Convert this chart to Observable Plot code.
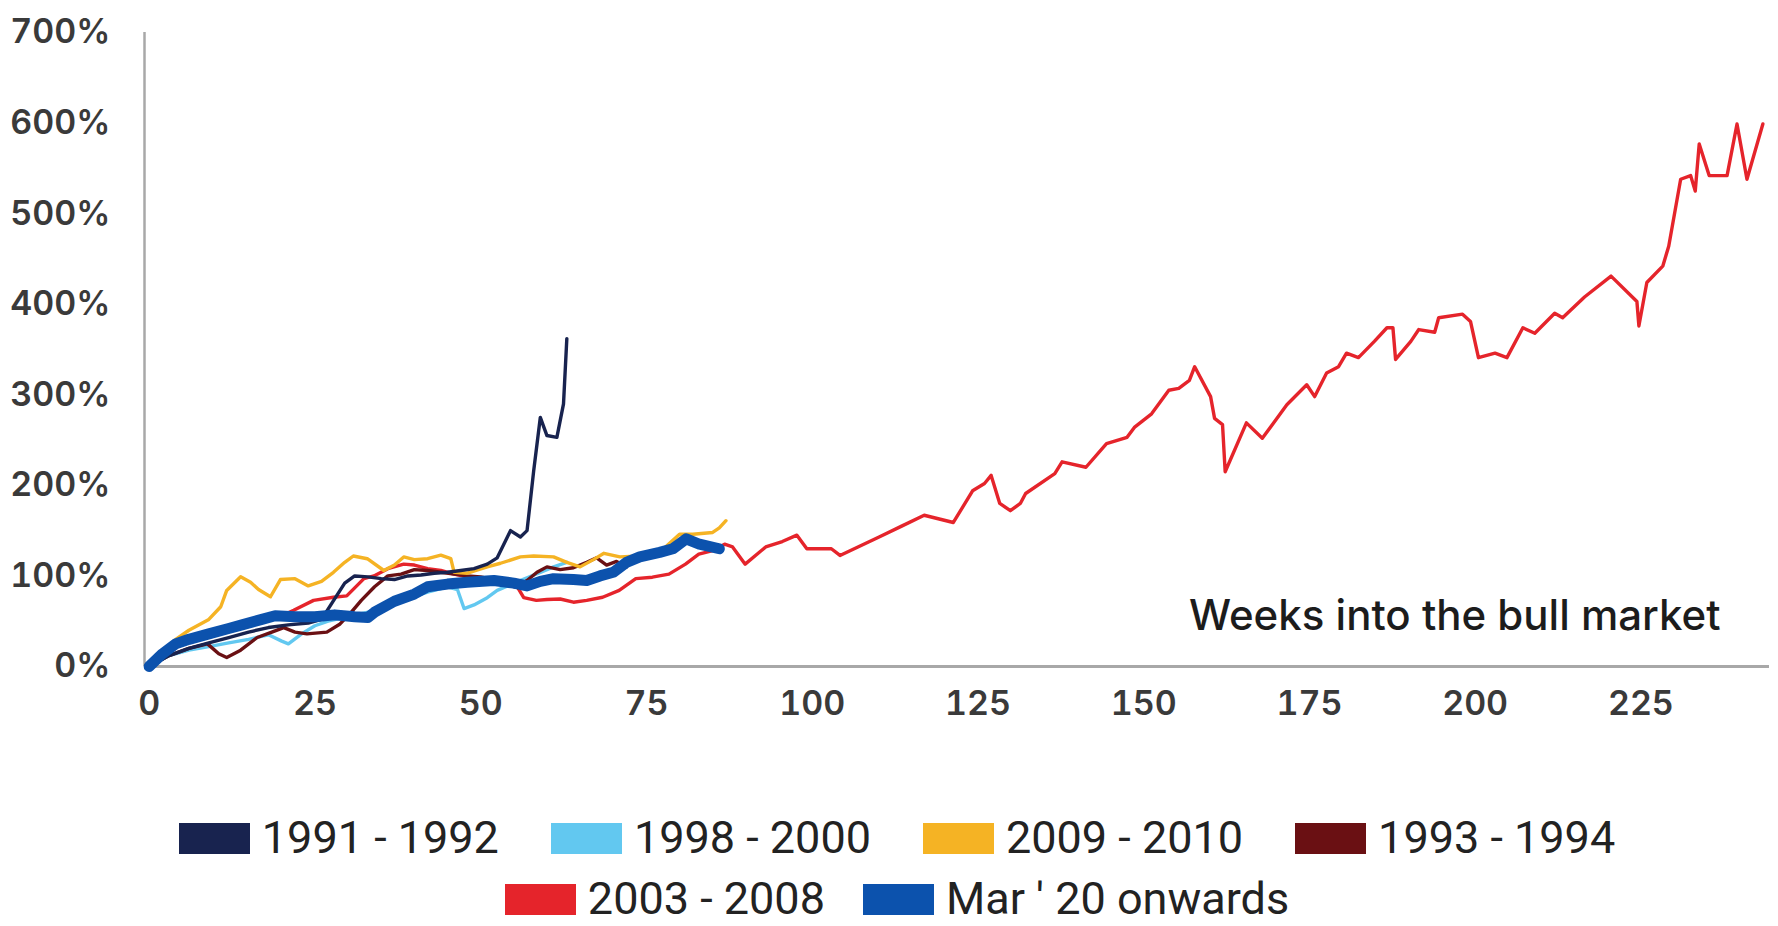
<!DOCTYPE html>
<html>
<head>
<meta charset="utf-8">
<script src="https://cdn.jsdelivr.net/npm/d3@7"></script>
<script src="https://cdn.jsdelivr.net/npm/@observablehq/plot@0.6"></script>
<style>
  html, body { margin: 0; padding: 0; background: #ffffff; }
  #chart { width: 1778px; height: 740px; }
  #chart svg g[aria-label="x-axis tick label"] text,
  #chart svg g[aria-label="y-axis tick label"] text { font-weight: 600; }
  #legend {
    width: 1778px;
    margin-top: 78px;
    font-family: Roboto, "Liberation Sans", sans-serif;
    font-size: 45px;
    line-height: 40px;
    color: #222;
    box-sizing: border-box;
    padding-left: 16px;
  }
  .legend-row {
    display: flex;
    justify-content: center;
    align-items: center;
    height: 40px;
    margin-bottom: 21px;
  }
  .legend-item { display: flex; align-items: center; white-space: nowrap; }
  .legend-swatch { width: 71px; height: 31px; margin-right: 12px; }
</style>
</head>
<body>
<div id="chart"></div>
<div id="legend"></div>
<script>
// Cumulative gain (%) by week since the start of each bull market.

const seriesNames = ["1991 - 1992", "1998 - 2000", "2009 - 2010", "1993 - 1994", "2003 - 2008", "Mar ' 20 onwards"];
const seriesColors = ["#18234f", "#62c8f0", "#f5b324", "#6a1013", "#e5242b", "#0c52ad"];

const xTicks = [0, 25, 50, 75, 100, 125, 150, 175, 200, 225];
const yTicks = [0, 100, 200, 300, 400, 500, 600, 700];
const weekDomain = [-0.7, 244.4];

const weeks1991 = [0, 3, 6, 9, 12, 15, 18, 21, 24, 26, 28, 29.5, 31, 33, 35, 37, 39, 41, 43, 45, 47, 49, 51, 52.5, 54.5, 56, 57, 58, 59, 60, 61.5, 62.5, 63];
const gain1991 = [0, 12, 20, 26, 32, 38, 43, 46, 48, 52, 75, 92, 100, 99, 97, 96, 100, 101, 103, 104, 106, 108, 113, 120, 150, 143, 150, 216, 275, 255, 253, 290, 362];

const weeks1998 = [0, 3, 6, 9, 12, 15, 18, 20, 21, 23, 25, 27, 30, 33, 36, 39, 42, 45, 46.5, 47.5, 49, 51, 52.5, 55, 57, 59, 61, 63];
const gain1998 = [0, 12, 18, 22, 26, 30, 35, 28, 25, 36, 45, 50, 55, 60, 68, 75, 82, 88, 85, 64, 68, 76, 84, 92, 98, 104, 110, 115];

const weeks2009 = [0, 2, 4, 6, 9, 10.8, 11.7, 13.8, 15.3, 16.5, 18.3, 19.8, 22, 24, 26, 27.8, 29.5, 30.8, 32.9, 35.4, 37, 38.4, 40, 42, 44, 45.5, 46, 48, 51, 53, 56, 58, 61, 63, 65, 67, 68.6, 71, 74, 77, 80, 82, 85, 86, 87];
const gain2009 = [0, 15, 30, 40, 52, 66, 84, 99, 93, 85, 77, 96, 97, 89, 94, 104, 115, 122, 119, 106, 112, 121, 118, 119, 123, 119, 104, 103, 110, 114, 121, 122, 121, 115, 110, 118, 125, 121, 122, 126, 146, 146, 148, 153, 161];

const weeks1993 = [0, 3, 6, 8.8, 10.5, 11.7, 13.8, 16.3, 18.5, 20.3, 22, 23.8, 26.8, 28.8, 30.5, 32, 34, 36, 38, 40, 42, 44, 46, 48, 50, 52, 54, 55.6, 57, 58.5, 60, 62, 64, 66, 67.5, 69, 70.5, 72];
const gain1993 = [0, 12, 20, 25, 14, 10, 18, 32, 38, 43, 38, 36, 38, 47, 60, 73, 88, 100, 102, 107, 106, 104, 102, 100, 99, 96, 90, 87, 95, 104, 110, 107, 109, 115, 120, 112, 116, 110];

const weeks2003 = [0, 3, 6, 9, 12, 15, 18, 20, 21.8, 24.8, 27.8, 29.8, 32.4, 33.9, 36, 38.4, 40, 42, 44, 46, 48, 50, 52, 54, 55.6, 56.5, 58.4, 60, 62, 64, 66, 68.4, 70.9, 73.4, 75.9, 78.4, 80.9, 82.9, 85, 86.8, 88, 89.9, 93, 95.5, 97.7, 99.2, 102.9, 104.2, 110.1, 113.5, 116.9, 121.3, 124.2, 126, 127, 128.3, 129.9, 131.4, 132.2, 136.6, 137.7, 141.3, 144.4, 147.5, 148.6, 151.2, 153.8, 155.3, 156.9, 157.7, 160.1, 160.7, 161.9, 162.3, 165.5, 167.9, 171.6, 174.6, 175.8, 177.6, 179.4, 180.6, 182.4, 184.8, 186.7, 187.6, 188, 190.3, 191.5, 193.9, 194.5, 198.1, 199.3, 200.5, 203, 204.8, 207.2, 209, 212, 213.2, 216.5, 220.5, 224.4, 224.7, 225.9, 228.3, 229.2, 231, 232.5, 233.2, 233.8, 235.3, 238, 239.5, 241, 243.4];
const gain2003 = [0, 18, 27, 34, 41, 47, 52, 56, 62, 73, 76.5, 78, 97, 100, 108, 113, 112, 108, 106, 102, 99, 97, 96, 92, 87, 76, 73, 74, 74.5, 71, 73, 76.5, 84, 97, 98.6, 102, 113, 124, 128, 135, 132, 113, 132, 138, 145, 130, 130, 122.6, 143, 155, 167, 159, 194, 202, 211, 180, 172, 180, 191, 213, 226, 220, 246, 253, 264, 279, 305, 307, 316, 331, 298, 274, 267, 215, 269, 252, 289, 311, 298, 324, 331, 346, 341, 359, 374, 374, 339, 359, 372, 369, 385, 389, 381, 341, 346, 341, 374, 368, 390, 385, 408, 431, 403, 376, 424, 442, 464, 538, 542, 525, 577, 542, 542, 599, 538, 599];

const weeks2020 = [0, 2, 4, 6, 9, 12, 14, 17, 19, 22, 25, 28, 31, 33, 34, 37, 40, 42, 45, 48, 52, 55, 57, 59, 61, 64, 66, 68, 70, 72, 74, 77, 79, 81, 83, 86];
const gain2020 = [0, 14, 25, 30, 36, 42, 46, 52, 56, 55, 55, 57, 55, 54, 60, 72, 80, 88, 91, 93, 95, 92, 89, 94, 97, 96, 95, 100, 104, 115, 121, 126, 130, 141, 135, 130];

const rows = (weeks, gains) => weeks.map((w, i) => ({week: w, gain: gains[i]}));

const seriesData = {
  "1991 - 1992": rows(weeks1991, gain1991),
  "1998 - 2000": rows(weeks1998, gain1998),
  "2009 - 2010": rows(weeks2009, gain2009),
  "1993 - 1994": rows(weeks1993, gain1993),
  "2003 - 2008": rows(weeks2003, gain2003),
  "Mar ' 20 onwards": rows(weeks2020, gain2020)
};
const colorOf = Object.fromEntries(seriesNames.map((n, i) => [n, seriesColors[i]]));

// back-to-front drawing order; the current cycle sits on top
const drawOrder = ["2003 - 2008", "1998 - 2000", "1993 - 1994", "2009 - 2010", "1991 - 1992", "Mar ' 20 onwards"];

const lineMarks = drawOrder.map(name => Plot.line(seriesData[name], {
  x: "week",
  y: "gain",
  stroke: colorOf[name],
  strokeWidth: name === "Mar ' 20 onwards" ? 11 : 3.4,
  strokeLinejoin: "round",
  strokeLinecap: "round"
}));

const chart = Plot.plot({
  width: 1778,
  height: 740,
  marginLeft: 144,
  marginRight: 9,
  marginTop: 32,
  marginBottom: 74,
  style: {
    fontFamily: "Inter, 'Open Sans', sans-serif",
    fontSize: "34px",
    color: "#3a3a3a",
    background: "#ffffff",
    overflow: "visible"
  },
  x: {domain: weekDomain, ticks: xTicks, tickSize: 0, tickPadding: 24, label: null},
  y: {domain: [0, 700], ticks: yTicks, tickFormat: d => d + "%", tickSize: 0, tickPadding: 34, label: null},
  marks: [
    Plot.ruleY([0], {stroke: "#a8a8a8", strokeWidth: 3}),
    Plot.ruleX([weekDomain[0]], {stroke: "#a8a8a8", strokeWidth: 2.5}),
    ...lineMarks,
    Plot.text(["Weeks into the bull market"], {
      frameAnchor: "bottom-right",
      text: d => d,
      textAnchor: "end",
      lineAnchor: "middle",
      dx: -49,
      dy: -50,
      fontSize: 42,
      fontWeight: 500,
      fill: "#1c1c1c"
    })
  ]
});
document.getElementById("chart").appendChild(chart);

// legend: four entries on the first row, the rest on the second
const legend = document.getElementById("legend");
const legendRows = [{names: seriesNames.slice(0, 4), gap: 52}, {names: seriesNames.slice(4), gap: 38}];
legendRows.forEach(({names, gap}) => {
  const row = document.createElement("div");
  row.className = "legend-row";
  row.style.gap = gap + "px";
  names.forEach(name => {
    const item = document.createElement("div");
    item.className = "legend-item";
    const sw = document.createElement("span");
    sw.className = "legend-swatch";
    sw.style.background = colorOf[name];
    const label = document.createElement("span");
    label.textContent = name;
    item.appendChild(sw);
    item.appendChild(label);
    row.appendChild(item);
  });
  legend.appendChild(row);
});
</script>
</body>
</html>
